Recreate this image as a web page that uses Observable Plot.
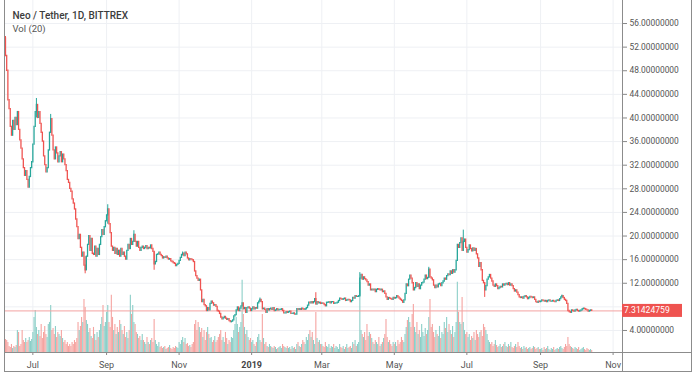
<!DOCTYPE html>
<html><head><meta charset="utf-8">
<script src="https://cdn.jsdelivr.net/npm/d3@7"></script>
<script src="https://cdn.jsdelivr.net/npm/@observablehq/plot@0.6"></script>
<style>
body{margin:0;background:#fff;}
#chart{width:696px;height:376px;}
#chart svg, #chart svg text{font-family: Roboto, "Liberation Sans", sans-serif;}
</style></head><body><div id="chart"></div>
<script>
const title = "Neo / Tether, 1D, BITTREX";
const volLabel = "Vol (20)";
const startDate = "2018-06-08";
const firstOpen = 53.5;
const lastPrice = 7.31424759;
const priceTicks = [4,12,16,20,24,28,32,36,40,44,48,52,56];
const gridPrices = [4,8,12,16,20,24,28,32,36,40,44,48,52,56];
const timeTicks = ["2018-07-01","2018-09-01","2018-11-01","2019-01-01","2019-03-01","2019-05-01","2019-07-01","2019-09-01","2019-11-01"];
const timeLabels = ["Jul","Sep","Nov","2019","Mar","May","Jul","Sep","Nov"];

// daily closes, one row per month
const close = [
50.5,48.0,43.0,41.5,38.5,37.0,39.5,38.0,40.0,38.8,41.0,38.0,36.2,34.8,33.0,31.5,30.2,31.0,29.5,28.2,30.0,31.5,32.5,
35.5,38.5,41.0,42.2,40.0,41.0,39.0,37.5,36.0,33.5,32.0,30.8,31.5,34.5,37.5,39.8,37.0,34.5,33.0,35.0,34.0,32.5,33.5,34.2,32.5,33.8,33.0,32.0,31.0,29.5,29.0,
28.0,27.5,26.2,25.5,24.5,22.8,21.5,19.5,20.2,18.0,16.5,17.2,15.0,14.2,16.5,18.5,20.0,17.5,19.5,17.0,16.8,18.2,16.5,17.8,16.8,18.5,19.8,21.0,20.2,21.5,22.5,
23.5,24.5,22.0,20.5,18.2,17.5,18.0,17.0,17.8,16.8,17.5,16.5,17.8,16.8,17.2,16.5,16.0,17.5,18.5,17.8,19.5,18.5,19.0,20.2,19.0,18.2,19.0,18.0,17.5,18.0,
18.2,17.8,18.0,18.3,17.8,18.0,17.9,18.4,17.8,17.3,15.2,15.6,16.8,16.9,17.2,16.8,16.6,16.2,16.4,16.3,16.5,16.2,16.0,16.1,15.7,15.6,15.4,15.3,14.9,15.1,15.3,
15.8,16.3,16.8,17.0,16.6,17.2,16.9,16.2,15.9,16.1,16.0,15.9,15.6,14.0,13.2,12.8,12.4,12.6,10.8,8.8,9.2,8.3,8.1,7.3,7.8,7.4,8.5,8.9,8.6,8.2,
8.3,8.0,7.3,7.2,6.8,6.2,5.9,6.1,6.3,6.0,5.8,5.9,5.6,5.4,5.5,5.7,6.4,6.6,7.4,7.9,7.3,7.7,8.1,8.6,7.6,7.8,7.0,7.8,7.9,7.7,7.3,
7.6,7.9,7.6,7.8,7.7,8.6,8.9,9.2,8.8,7.6,7.7,7.5,7.0,7.6,7.4,7.6,7.7,7.5,7.8,7.3,7.4,7.6,7.4,7.5,7.5,7.6,7.3,6.9,6.9,7.1,7.0,
7.1,7.2,6.8,6.8,6.9,6.7,6.7,7.6,7.5,7.6,7.5,7.7,7.6,7.5,7.6,7.8,8.2,8.7,8.6,8.8,8.6,8.8,9.3,8.4,8.8,8.6,8.7,8.5,
8.6,8.5,8.3,8.1,8.7,8.7,8.8,8.6,8.8,8.8,8.5,8.6,8.6,8.7,9.0,9.4,9.3,9.2,9.3,9.4,9.0,9.1,9.2,9.1,8.8,9.0,9.5,9.4,9.8,9.7,9.7,
9.8,12.8,13.4,12.6,13.0,12.7,12.5,12.2,11.6,11.8,10.8,10.9,10.8,10.9,10.5,10.9,11.0,10.9,10.8,10.9,10.5,10.6,10.2,9.6,9.2,9.5,9.4,9.3,9.2,9.5,
9.4,9.5,9.8,9.6,9.4,9.2,9.0,8.7,9.1,10.2,11.8,11.5,12.6,13.3,12.8,12.0,10.8,11.2,12.0,11.4,11.8,11.0,11.6,12.0,12.1,12.6,13.3,12.7,12.9,14.3,13.0,
12.8,12.5,11.6,11.2,11.6,11.3,11.8,11.9,11.5,12.0,12.3,12.8,12.6,13.2,13.5,13.4,14.0,13.6,14.2,13.8,14.2,15.8,18.5,18.0,18.8,19.6,17.5,19.0,19.4,18.0,
17.2,17.6,18.4,17.8,17.4,17.9,17.5,17.8,16.9,16.2,14.8,15.4,14.2,12.4,12.0,10.8,11.5,12.6,13.0,13.4,12.8,12.3,11.6,11.4,11.8,11.5,11.0,11.2,11.4,11.3,11.8,
11.6,11.8,11.9,11.7,12.0,11.6,11.8,11.5,11.0,10.6,10.8,10.4,10.0,9.6,9.5,9.6,9.4,9.7,9.8,9.6,9.3,9.5,9.7,9.6,9.5,9.6,9.2,8.8,8.7,8.9,8.8,
8.9,9.1,9.0,8.9,9.0,8.8,9.0,9.1,8.9,8.9,9.0,8.9,8.8,9.0,9.1,9.0,9.3,9.6,9.8,9.5,9.2,9.0,8.5,7.3,7.1,7.0,7.4,7.3,7.2,7.4,
7.5,7.3,7.2,7.3,7.4,7.6,7.7,7.6,7.5,7.4,7.2,7.3,7.4,7.31424759
];

// daily volume (relative units), one row per month
const volume = [
13,12,10,6,5,8,4,6,5,7,22,20,6,8,22,12,10,14,10,12,15,11,13,
20,35,42,25,18,22,16,28,14,20,26,18,15,28,30,47,22,24,18,26,15,20,18,16,22,14,10,12,8,10,6,
8,6,10,8,12,10,14,30,22,26,35,30,53,45,32,28,20,24,16,14,25,18,12,20,15,22,28,35,47,26,30,
40,47,30,25,57,35,22,28,18,25,20,32,28,22,18,26,15,20,14,22,57,38,47,30,28,20,18,14,16,12,
18,12,10,8,15,10,8,12,14,10,33,12,8,6,10,5,6,4,5,6,3,4,5,7,4,3,5,4,6,5,4,
10,8,12,15,10,14,8,9,6,7,5,8,10,28,32,22,30,25,20,24,15,22,12,20,25,18,14,15,10,12,
16,10,12,15,18,22,12,15,10,20,14,8,12,10,15,14,22,28,35,28,20,25,30,72,38,25,18,22,15,12,14,
10,12,8,6,10,15,18,12,10,38,14,8,10,6,5,8,6,5,4,6,5,3,4,5,6,4,8,6,5,4,6,
4,5,3,6,4,5,3,8,10,6,5,8,12,10,8,15,12,18,22,15,20,12,8,40,14,10,12,8,
8,6,5,10,6,5,8,4,6,5,8,4,6,5,3,8,5,4,6,3,5,8,4,5,6,4,10,8,12,6,8,
10,70,22,18,15,20,12,28,16,20,18,14,10,8,12,10,8,15,6,8,10,14,18,33,15,10,12,8,6,10,
8,10,6,12,8,10,15,12,10,18,25,32,35,30,25,38,48,25,20,30,18,22,15,28,20,16,24,18,22,35,53,
25,28,20,15,22,18,16,26,14,20,18,30,24,35,20,28,22,18,26,15,20,30,70,40,30,28,55,30,22,18,
20,15,18,12,16,14,20,12,22,18,15,20,22,16,28,25,22,18,12,10,8,10,6,8,12,7,5,6,8,5,6,
8,10,6,5,8,6,10,5,4,6,8,5,10,6,4,5,3,6,4,5,3,4,5,3,4,6,5,3,4,5,3,
3,4,2,5,3,4,6,3,2,4,3,5,2,3,4,3,5,6,4,3,5,8,6,15,8,6,5,4,3,5,
4,3,5,2,3,4,5,3,2,4,3,2,3,2
];

// notable wick extremes: date, low, high
const wicks = [
["2018-06-08",50.5,53.8],["2018-07-04",40.0,43.3],["2018-07-16",37.5,40.6],["2018-08-14",13.6,16.5],
["2018-09-02",22.0,25.3],["2018-09-24",19.0,20.9],["2018-10-11",14.2,17.3],["2018-11-04",16.6,17.3],
["2019-01-08",8.8,9.5],["2019-02-24",8.4,10.4],["2019-04-02",9.8,13.8],["2019-05-30",12.9,14.7],
["2019-06-28",17.5,21.0],["2019-07-16",9.6,12.0],["2019-09-19",9.5,10.0]
];

const DAY = 864e5;
const t0 = new Date(startDate + "T00:00:00Z").getTime();
const rows = close.map((c, i) => ({date: new Date(t0 + i * DAY), open: i ? close[i - 1] : firstOpen, close: c, vol: volume[i]}));
const isUp = d => d.close >= d.open;
const yDom = [0.27, 59.9];
const volTop = yDom[0] + (yDom[1] - yDom[0]) * 0.205;
const volMax = d3.max(volume);
const volY = v => yDom[0] + (volTop - yDom[0]) * v / volMax;
const tickDates = timeTicks.map(s => new Date(s + "T00:00:00Z"));
const wickColor = w => {
  const r = rows.find(d => +d.date === +new Date(w[0] + "T00:00:00Z"));
  return r && isUp(r) ? "#26a69a" : "#ef5350";
};

const plot = Plot.plot({
  width: 696, height: 376,
  marginLeft: 5, marginRight: 74, marginTop: 0, marginBottom: 24,
  x: {type: "utc", domain: [new Date(t0), new Date(t0 + 518.9 * DAY)]},
  y: {domain: yDom},
  style: {fontSize: "9px", color: "#555", background: "#fff"},
  marks: [
    Plot.ruleY(gridPrices, {stroke: "#eef0f4", strokeOpacity: 1}),
    Plot.ruleX(tickDates, {stroke: "#eef0f4", strokeOpacity: 1}),
    Plot.ruleX(rows, {x: "date", y1: () => yDom[0], y2: d => volY(d.vol), stroke: d => isUp(d) ? "#8ccfc8" : "#f5a4a1", strokeWidth: 1.1, strokeOpacity: 1, clip: true}),
    Plot.ruleY([lastPrice], {stroke: "#f3a3a1", strokeWidth: 1, strokeOpacity: 1}),
    Plot.ruleX(wicks, {x: w => new Date(w[0] + "T00:00:00Z"), y1: w => w[1], y2: w => w[2], stroke: wickColor, strokeWidth: 1, strokeOpacity: 1, clip: true}),
    Plot.ruleX(rows, {x: "date", y1: "open", y2: "close", stroke: d => isUp(d) ? "#26a69a" : "#ef5350", strokeWidth: 1.3, strokeOpacity: 1, strokeLinecap: "square", clip: true}),
    Plot.axisY({anchor: "right", ticks: priceTicks, tickFormat: d => d.toFixed(8), tickSize: 4, tickPadding: 3, label: null, stroke: "#888", fontSize: 8.4}),
    Plot.axisX({ticks: tickDates, tickFormat: (d, i) => timeLabels[i], tickSize: 3, tickPadding: 6, label: null, stroke: "#888", fontSize: 9}),
    Plot.text([title], {frameAnchor: "top-left", dx: 7, dy: 15, text: d => d, textAnchor: "start", lineAnchor: "middle", fontWeight: 500, fontSize: 10, fill: "#3c3c3c"}),
    Plot.text([volLabel], {frameAnchor: "top-left", dx: 7, dy: 28, text: d => d, textAnchor: "start", lineAnchor: "middle", fontSize: 9.5, fill: "#555"})
  ]
});

const svg = d3.select(plot);
svg.selectAll("text").filter(function(){ return this.textContent === "2019"; }).attr("font-weight", "bold").attr("fill", "#444");
const py = plot.scale("y").apply(lastPrice);
svg.append("rect").attr("x", 622).attr("y", 352).attr("width", 74).attr("height", 24).attr("fill", "#fff");
svg.append("rect").attr("x", 692).attr("y", 0).attr("width", 4).attr("height", 376).attr("fill", "#fff");
const g = svg.append("g").attr("fill", "none").attr("stroke", "#8c8c8c").attr("stroke-width", 1);
g.append("line").attr("x1", 4).attr("x2", 692).attr("y1", 352.5).attr("y2", 352.5);
g.append("line").attr("x1", 622.5).attr("x2", 622.5).attr("y1", 0).attr("y2", 372);
g.append("line").attr("x1", 691.5).attr("x2", 691.5).attr("y1", 0).attr("y2", 372);
g.append("line").attr("x1", 4).attr("x2", 692).attr("y1", 371.5).attr("y2", 371.5);
g.append("line").attr("x1", 4.5).attr("x2", 4.5).attr("y1", 0).attr("y2", 372);
svg.append("rect").attr("x", 622).attr("y", py - 6.5).attr("width", 60).attr("height", 13).attr("fill", "#ef5350");
svg.append("text").attr("x", 624).attr("y", py).attr("dy", "0.35em").attr("text-anchor", "start")
  .attr("fill", "#fff").attr("font-size", 8.6).text(lastPrice.toFixed(8));

document.getElementById("chart").appendChild(plot);
</script></body></html>
